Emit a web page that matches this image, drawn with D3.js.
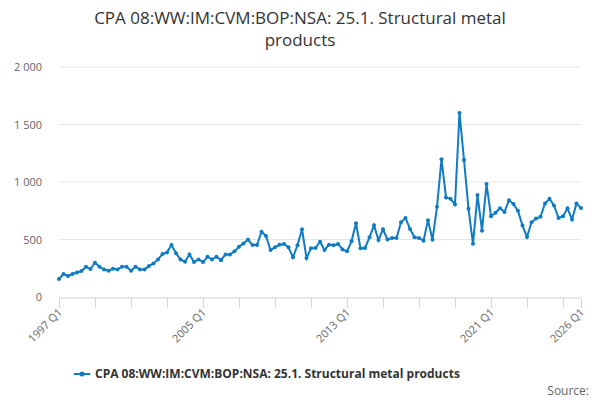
<!DOCTYPE html>
<html><head><meta charset="utf-8">
<script src="https://cdn.jsdelivr.net/npm/d3@7"></script>
<style>body{margin:0;background:#fff;font-family:"Open Sans",sans-serif}</style>
</head><body><svg></svg>
<script>
//quarterly values 1997 Q1 .. 2026 Q1
let values = [157,200,183,200,213,226,263,243,298,263,240,228,245,240,263,263,228,263,240,240,270,292,327,373,388,452,
  380,327,307,370,304,327,304,350,327,350,320,370,370,
  397,437,466,500,452,452,568,530,408,432,455,461,432,345,450,589,339,423,426,481,408,455,450,461,414,397,484,641,423,426,519,623,496,589,500,
  513,513,650,688,592,519,513,490,668,498,784,1198,866,854,805,1600,1192,767,463,886,577,982,703,732,772,740,842,808,749,621,522,650,682,697,813,854,796,688,703,772,673,813,775];
let labels = values.map((v, i) => (1997 + Math.floor(i / 4)) + " Q" + (i % 4 + 1));
let xTickLabels = ["1997 Q1", "2005 Q1", "2013 Q1", "2021 Q1", "2026 Q1"];
let yTicks = [0, 500, 1000, 1500, 2000];
let seriesName = "CPA 08:WW:IM:CVM:BOP:NSA: 25.1. Structural metal products";

let width = 600, height = 400;
let plotLeft = 59, plotRight = 581, plotTop = 67, plotBottom = 297;
let color = "#0e7bc4";
let svg = d3.select("svg").attr("width", width).attr("height", height);

let xScale = d3.scaleLinear().domain([0, values.length - 1]).range([plotLeft, plotRight]);
let yScale = d3.scaleLinear().domain([0, 2000]).range([plotBottom, plotTop]);

//title
svg.append("text").attr("x", 300).attr("y", 24).attr("text-anchor", "middle")
  .attr("font-size", 17).attr("fill", "#333").text("CPA 08:WW:IM:CVM:BOP:NSA: 25.1. Structural metal");
svg.append("text").attr("x", 300).attr("y", 46).attr("text-anchor", "middle")
  .attr("font-size", 17).attr("fill", "#333").text("products");

//grid + y labels
svg.append("g").selectAll("line").data(yTicks.slice(1)).enter().append("line")
  .attr("x1", plotLeft).attr("x2", plotRight).attr("y1", d => yScale(d)).attr("y2", d => yScale(d))
  .attr("stroke", "#e6e6e6");
svg.append("g").selectAll("text").data(yTicks).enter().append("text")
  .attr("x", plotLeft - 17).attr("y", d => yScale(d) + 4).attr("text-anchor", "end")
  .attr("font-size", 11).attr("fill", "#666")
  .text(d => d3.format(",")(d).replace(",", " "));

//x axis
let xAxis = d3.axisBottom(xScale)
  .tickValues(d3.range(0, values.length, 8).concat([values.length - 1]))
  .tickSize(10).tickFormat("");
let gx = svg.append("g").attr("transform", "translate(0," + (plotBottom + 1) + ")").call(xAxis);
gx.select(".domain").attr("stroke", "#ccd6eb").attr("d", "M" + plotLeft + ",0H" + plotRight);
gx.selectAll(".tick line").attr("stroke", "#ccd6eb");
svg.append("g").selectAll("text").data(xTickLabels).enter().append("text")
  .attr("transform", d => "translate(" + (xScale(labels.indexOf(d)) + 4) + "," + (plotBottom + 16) + ") rotate(-45)")
  .attr("text-anchor", "end").attr("font-size", 11).attr("fill", "#666").text(d => d);

//line
let line = d3.line().x((d, i) => xScale(i)).y(d => yScale(d));
svg.append("path").datum(values).attr("d", line).attr("fill", "none")
  .attr("stroke", color).attr("stroke-width", 2);
svg.append("g").selectAll("circle").data(values).enter().append("circle")
  .attr("cx", (d, i) => xScale(i)).attr("cy", d => yScale(d)).attr("r", 2).attr("fill", color);

//legend
svg.append("line").attr("x1", 74).attr("x2", 90).attr("y1", 374).attr("y2", 374)
  .attr("stroke", color).attr("stroke-width", 2);
svg.append("circle").attr("cx", 82).attr("cy", 374).attr("r", 2.5).attr("fill", color);
svg.append("text").attr("x", 95).attr("y", 378).attr("font-size", 12).attr("font-weight", "bold")
  .attr("fill", "#333").text(seriesName);
svg.append("text").attr("x", 589).attr("y", 395).attr("text-anchor", "end")
  .attr("font-size", 12).attr("fill", "#666").text("Source:");
</script></body></html>
